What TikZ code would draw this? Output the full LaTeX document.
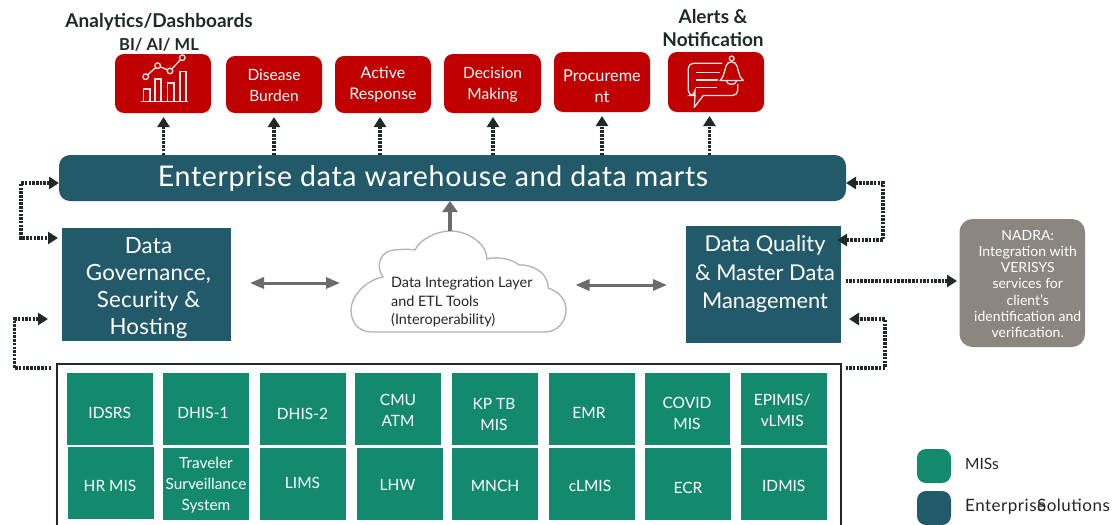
\documentclass[tikz,border=0pt]{standalone}
\usepackage{fontspec}
\setmainfont{Lato}
\usetikzlibrary{arrows.meta,calc}
\definecolor{teal}{HTML}{225A69}
\definecolor{grn}{HTML}{138A6D}
\definecolor{redb}{HTML}{C00000}
\definecolor{gryb}{HTML}{8B8680}
\definecolor{arr}{HTML}{6B6B6B}
\definecolor{dk}{HTML}{1E2A26}
\newcommand{\fsz}[2]{\fontsize{#1pt}{#2pt}\selectfont}
\newcommand{\bx}[8][0,0]{\node[#7,minimum width={(#5-#3)*1pt},minimum height={(#6-#4)*1pt}] (#2) at ({(#3+#5)/2},{(#4+#6)/2}) {};
 \if\relax\detokenize{#8}\relax\else\node[#7,fill=none] (#2t) at ($(#2.center)+(#1)$) {#8};\fi}
\tikzset{
 base/.style={inner sep=0pt,outer sep=0pt,align=center,text=white},
 redbox/.style={base,fill=redb,rounded corners=9pt,font=\fsz{15.5}{20.5}},
 tealbox/.style={base,fill=teal,font=\fsz{22.3}{27.3}\addfontfeature{LetterSpace=1}},
 grnbox/.style={base,fill=grn,font=\fsz{15.5}{21}},
 head/.style={inner sep=0pt,align=center,text=dk,font=\fsz{19}{23}\bfseries},
 da/.style={draw=dk,line width=3.2pt,dash pattern=on 2.5pt off 1.2pt,-{Triangle[width=12pt,length=10pt]}},
 dd/.style={draw=dk,line width=3.2pt,dash pattern=on 2.5pt off 1.2pt,{Triangle[width=12pt,length=10pt]}-{Triangle[width=12pt,length=10pt]}},
 ga/.style={draw=arr,line width=4.3pt,-{Triangle[width=15pt,length=11pt]}},
 gd/.style={draw=arr,line width=3pt,{Triangle[width=11pt,length=14pt]}-{Triangle[width=11pt,length=14pt]}},
 icon/.style={draw=white!90!redb,line width=1.3pt},
}
\begin{document}
\begin{tikzpicture}[x=1pt,y=-1pt]
\clip (0,0) rectangle (1117,525);
\fill[white] (0,0) rectangle (1117,525);
% headings
\node[head] (hana) at (159,32) {Analytics/Dashboards\\{\fsz{16.5}{23}\bfseries BI/ AI/ ML}};
\node[head] (hale) at (713,28) {Alerts \&\\Notification};
% red boxes
\bx{an}{115}{54}{211}{113}{redbox}{}
\bx[0,1]{dis}{226}{56}{322}{113}{redbox}{Disease\\Burden}
\bx[0,0]{act}{335}{56}{431}{113}{redbox,font=\fsz{16}{20.5}}{Active\\Response}
\bx[0,1.5]{dec}{444}{54}{541}{113}{redbox}{Decision\\Making}
\bx[0,4]{pro}{554}{52}{650}{112}{redbox,font=\fsz{16.3}{21}}{Procureme\\nt}
\bx{ale}{668}{52}{764}{112}{redbox}{}
% analytics icon
\draw[icon] (141,101.7) -- (188,101.7);
\draw[icon] (143.5,101.7) |- (150,89) -- (150,101.7);
\draw[icon] (155,101.7) |- (161,79) -- (161,101.7);
\draw[icon] (167.7,101.7) |- (174,83) -- (174,101.7);
\draw[icon] (180,101.7) |- (186,71.7) -- (186,101.7);
\draw[icon] (145.7,76.7) -- (157.7,65.7) -- (170,71) -- (182.3,57.7);
\foreach \p in {(145.7,76.7),(157.7,65.7),(170,71),(182.3,57.7)} \draw[icon,fill=redb] \p circle (2.8pt);
% alerts icon
\draw[icon,rounded corners=5pt] (722,63.3) -- (688.3,63.3) -- (688.3,95.5) -- (695,95.5) -- (695,95.5);
\draw[icon,line join=round] (695,95) -- (694.3,107.3) -- (703.3,95.5);
\draw[icon,rounded corners=5pt] (703.3,95.5) -- (737.7,95.5) -- (737.7,84);
\draw[icon] (695.7,72.7) -- (720,72.7) (695.7,80) -- (718,80) (695.7,87.7) -- (716.7,87.7);
\draw[icon,line join=round] (720,80.5) .. controls (726,75) and (724,66) .. (728,63) .. controls (730,61.5) and (733,61.5) .. (735,63) .. controls (739,66) and (737,75) .. (743.3,80.5) -- cycle;
\draw[icon] (731.7,58.5) circle (2.4pt);
\draw[icon] (726.5,81) .. controls (727,85.5) and (736,85.5) .. (736.5,81);
% enterprise bar
\bx{bar}{59}{155}{846}{201}{base,fill=teal,rounded corners=11pt}{}
\node[text=white,inner sep=0pt,font=\fsz{28.5}{32}\addfontfeature{LetterSpace=2.5}] (bart) at (433,178) {Enterprise data warehouse and data marts};
% middle boxes
\bx[2,3.5]{gov}{62}{228}{231}{341}{tealbox}{Data\\Governance,\\Security \&\\Hosting}
\bx{dq}{686}{226}{841}{343}{base,fill=teal}{}
\node[base,font=\fsz{21.8}{28.5}] (dqt) at (765,274) {Data Quality\\\& Master Data\\Management};
\bx[5.5,1]{nad}{959.5}{219}{1085}{347}{base,fill=gryb,rounded corners=13pt,font=\fsz{14}{16.2}}{NADRA:\\Integration with\\VERISYS\\services for\\client’s\\identification and\\verification.}
% cloud
\draw[draw=black!30,line width=1.3pt,fill=white] (372,332) .. controls (358,332) and (351,322) .. (351,310) .. controls (351,296) and (366,280) .. (383,277) .. controls (374,264) and (382,250) .. (395,250) .. controls (402,249) and (410,249) .. (415,250) .. controls (420,239) and (437,231) .. (450,231) .. controls (470,231) and (487,245) .. (487,259) .. controls (497,256) and (512,259) .. (519,265) .. controls (532,264) and (549,273) .. (548,288) .. controls (560,292) and (566,300) .. (566,310) .. controls (566,322) and (557,332) .. (545,332) -- cycle;
\coordinate (cltop) at (450,231);
\coordinate (cll) at (351,283);
\coordinate (clr) at (566,285);
\node[inner sep=0pt,anchor=west,align=left,text=black!85,font=\fsz{14.4}{18.5}] (clt) at (391,302) {Data Integration Layer\\and ETL Tools\\(Interoperability)};
% MIS frame
\node[draw=dk,line width=1.8pt,inner sep=0pt,outer sep=0pt,minimum width=784pt,minimum height=200pt,anchor=north west] (fr) at (57,364) {};
% MIS boxes
\bx[0,4]{m1}{67}{373}{152.5}{445}{grnbox}{IDSRS}
\bx[-3,4]{m2}{163}{373}{249}{445}{grnbox}{DHIS-1}
\bx[-0.5,5]{m3}{260}{373}{346}{445}{grnbox}{DHIS-2}
\bx[0,1.5]{m4}{355}{373}{441}{445}{grnbox}{CMU\\ATM}
\bx[-1,6]{m5}{452}{373}{538}{445}{grnbox}{KP TB\\MIS}
\bx[-2.5,4]{m6}{548.5}{373}{634.5}{445}{grnbox}{EMR}
\bx[-0.5,4.5]{m7}{645}{373}{730}{445}{grnbox}{COVID\\MIS}
\bx[-1.5,1]{m8}{740.5}{373}{827}{445}{grnbox}{EPIMIS/\\vLMIS}
\bx[-1,3]{n1}{68}{447}{154}{519}{grnbox}{HR MIS}
\bx[0,1]{n2}{163}{448}{249}{520}{grnbox,font=\fsz{15.4}{21}}{Traveler\\Surveillance\\System}
\bx[-0.5,-1]{n3}{260}{448}{346}{520}{grnbox}{LIMS}
\bx[-2.5,1]{n4}{357}{448}{443}{520}{grnbox}{LHW}
\bx[0,2]{n5}{452}{448}{538}{520}{grnbox}{MNCH}
\bx[-1.5,2]{n6}{548.5}{448}{634.5}{520}{grnbox}{cLMIS}
\bx[0,4]{n7}{645}{448}{731}{520}{grnbox}{ECR}
\bx[0,2]{n8}{740.5}{448}{827}{520}{grnbox}{IDMIS}
% legend
\bx{lg1}{917}{449}{951}{483}{base,fill=grn,rounded corners=9pt}{}
\bx{lg2}{917}{491}{951}{525}{base,fill=teal,rounded corners=9pt}{}
\node[inner sep=0pt,anchor=west,text=black!85,font=\fsz{15.5}{18}] (lt1) at (965,464) {MISs};
\node[inner sep=0pt,anchor=west,text=black!85,font=\fsz{17}{18}\addfontfeature{LetterSpace=3}] (lt2) at (965,507) {Enterprise\kern-9pt Solutions};
% arrows bar to red
\foreach \n/\x in {an/163.5,dis/274,act/380,dec/493,pro/602,ale/709.5}
  \draw[da,shorten >=4pt] (\x,155) -- (\n.south -| \x,0);
% side connectors
\coordinate (lt) at (21,183);
\coordinate (lb) at (21,238);
\draw[dd,shorten <=0pt,shorten >=4pt] (bar.west |- lt) -- (lt) -- (lb) -- (gov.west |- lb);
\coordinate (rt) at (883,183);
\coordinate (rb) at (883,240);
\draw[dd,shorten >=-4pt] (bar.east |- rt) -- (rt) -- (rb) -- (dq.east |- rb);
\coordinate (ll) at (14.5,368);
\coordinate (lu) at (14.5,319);
\draw[da,shorten <=6pt,shorten >=14pt] (fr.west |- ll) -- (ll) -- (lu) -- (gov.west |- lu);
\coordinate (rl) at (885,368);
\coordinate (ru) at (885,319);
\draw[da,shorten <=4.5pt,shorten >=8pt] (fr.east |- rl) -- (rl) -- (ru) -- (dq.east |- ru);
\draw[da,shorten <=4.5pt,shorten >=2.5pt] (dq.east |- 0,281) -- (nad.west |- 0,281);
% grey arrows
\draw[gd,shorten <=19pt,shorten >=11pt] (gov.east |- cll) -- (cll);
\draw[gd,shorten <=9.5pt,shorten >=19pt] (clr) -- (dq.west |- clr);
\draw[ga] (cltop) -- (bar.south -| cltop);
\end{tikzpicture}
\end{document}
